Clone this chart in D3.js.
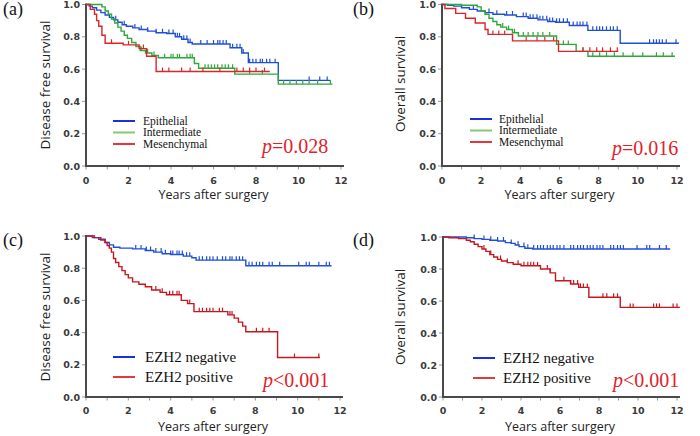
<!DOCTYPE html>
<html><head><meta charset="utf-8">
<script src="https://cdn.jsdelivr.net/npm/d3@7"></script>
<style>
html,body{margin:0;padding:0;background:#fff;}
svg{display:block;}
</style></head>
<body>
<svg id="chart" width="700" height="436"></svg>
<script>
// ---------- DATA ----------
const yearTicks = [0, 2, 4, 6, 8, 10, 12];
const survTicks = [0.0, 0.2, 0.4, 0.6, 0.8, 1.0];
const panelLabels = ["(a)", "(b)", "(c)", "(d)"];
const yTitles = ["Disease free survival", "Overall survival", "Disease free survival", "Overall survival"];
const xTitle = "Years after surgery";
const groupsEMT = ["Epithelial", "Intermediate", "Mesenchymal"];
const groupsEZH2 = ["EZH2 negative", "EZH2 positive"];
const pLabels = ["=0.028", "=0.016", "<0.001", "<0.001"];

// step curves: [years, survival]
const aEpi = [[0,1],[0.15,0.99],[0.3,0.98],[0.5,0.965],[0.7,0.95],[0.9,0.935],[1.1,0.92],[1.3,0.905],[1.5,0.89],[1.7,0.875],[1.9,0.865],[2.2,0.855],[2.5,0.845],[2.9,0.835],[3.3,0.825],[3.8,0.82],[4.2,0.8],[4.5,0.785],[4.8,0.765],[5.0,0.755],[6.78,0.732],[7.33,0.70],[7.64,0.64],[9.05,0.53],[11.5,0.53]];
const aInt = [[0,1],[0.75,0.985],[0.9,0.96],[1.05,0.94],[1.2,0.91],[1.35,0.885],[1.5,0.86],[1.65,0.835],[1.8,0.81],[1.95,0.79],[2.15,0.765],[2.35,0.74],[2.55,0.715],[2.8,0.70],[3.1,0.685],[3.4,0.67],[5.1,0.635],[5.3,0.605],[7.0,0.569],[9.05,0.507],[11.6,0.507]];
const aMes = [[0,1],[0.2,0.97],[0.4,0.94],[0.5,0.9],[0.6,0.865],[0.75,0.81],[0.9,0.76],[1.75,0.75],[2.5,0.727],[2.85,0.68],[3.3,0.585],[8.65,0.585]];
const aEpiCens = [1.4,1.8,2.3,2.6,2.9,3.3,3.6,3.9,4.1,4.3,4.4,4.6,4.75,4.9,5.4,5.7,6.0,6.2,6.3,6.45,6.6,6.9,7.1,7.25,7.4,7.7,7.85,8.0,8.2,8.3,8.5,8.65,8.9,10.5,11.0,11.35];
const aIntCens = [2.6,2.9,3.2,3.7,4.0,4.1,4.3,4.4,4.75,4.9,5.0,5.6,5.75,5.9,6.05,6.2,6.4,6.55,6.7,6.9,7.7,8.3,9.3,9.6,9.9,10.2,10.5,10.9,11.5];
const aMesCens = [1.2,2.0,2.7,3.6,3.9,4.5,4.9,5.5,6.3,7.1,7.4,7.7,8.0,8.4];

const bEpi = [[0,1],[0.3,0.995],[0.6,0.99],[1.0,0.98],[1.4,0.97],[1.8,0.96],[2.2,0.95],[2.6,0.94],[3.2,0.935],[3.8,0.925],[4.4,0.915],[4.9,0.905],[5.4,0.895],[5.8,0.89],[6.5,0.87],[7.45,0.84],[9.1,0.76],[12.1,0.76]];
const bInt = [[0,1],[1.0,0.995],[1.8,0.985],[2.0,0.96],[2.2,0.94],[2.4,0.915],[2.6,0.895],[2.8,0.875],[3.0,0.86],[3.3,0.845],[3.6,0.825],[3.9,0.805],[5.85,0.753],[6.85,0.71],[7.45,0.68],[11.9,0.68]];
const bMes = [[0,1],[0.15,0.975],[0.7,0.945],[1.2,0.915],[1.7,0.885],[2.2,0.845],[2.35,0.815],[3.6,0.775],[5.95,0.71],[9.0,0.71]];
const bEpiCens = [1.6,2.4,2.8,3.3,3.6,4.15,4.3,4.5,4.65,4.85,5.0,5.15,5.35,5.5,5.65,5.85,6.0,6.2,6.4,6.7,6.9,7.05,7.2,7.4,7.7,7.9,8.05,8.2,8.4,8.6,8.75,8.95,10.6,10.8,10.95,11.1,11.25,11.45,11.95];
const bIntCens = [3.1,3.4,3.7,4.15,4.4,4.65,4.9,5.15,5.5,6.2,6.45,7.2,7.7,8.05,8.4,8.8,9.25,9.75,10.25,10.95,11.3,11.75];
const bMesCens = [2.6,2.9,3.2,4.3,4.85,5.25,5.7,7.2,7.55,7.9,8.2,8.6,8.95];

const cNeg = [[0,1],[0.3,0.99],[0.6,0.98],[0.9,0.96],[1.1,0.945],[1.3,0.93],[1.6,0.925],[2.2,0.92],[2.8,0.91],[3.2,0.9],[3.6,0.89],[4.0,0.885],[4.6,0.875],[5.0,0.865],[5.2,0.85],[7.55,0.815],[11.6,0.815]];
const cPos = [[0,1],[0.4,0.99],[0.7,0.975],[0.9,0.96],[1.0,0.94],[1.1,0.925],[1.2,0.9],[1.3,0.86],[1.4,0.835],[1.55,0.81],[1.7,0.785],[1.85,0.76],[2.0,0.74],[2.2,0.715],[2.5,0.70],[2.8,0.685],[3.1,0.665],[3.5,0.65],[3.8,0.635],[4.5,0.60],[4.8,0.58],[5.1,0.53],[6.7,0.51],[7.0,0.49],[7.2,0.465],[7.4,0.44],[7.55,0.405],[9.05,0.245],[11.05,0.245]];
const cNegCens = [2.35,2.6,2.85,3.05,3.3,3.55,3.75,4.0,4.1,4.3,4.4,4.55,4.75,4.9,5.35,5.5,5.7,5.85,6.0,6.2,6.45,6.6,6.8,6.9,7.1,7.25,7.4,7.7,7.85,8.05,8.2,8.35,8.65,8.8,9.15,10.05,10.4,10.55,11.0,11.35,11.5];
const cPosCens = [3.3,3.6,3.95,4.1,4.3,4.4,4.9,5.35,5.5,5.7,5.85,6.0,6.3,6.45,6.8,6.9,8.05,8.35,8.65,9.85,11.0];

const dNeg = [[0,1],[1.2,0.995],[1.6,0.99],[2.0,0.985],[2.4,0.98],[2.8,0.975],[3.2,0.965],[3.5,0.96],[3.7,0.95],[3.9,0.94],[4.2,0.93],[4.6,0.925],[11.65,0.925]];
const dPos = [[0,1],[0.3,0.995],[0.8,0.99],[1.2,0.98],[1.4,0.97],[1.6,0.955],[1.8,0.94],[2.0,0.925],[2.2,0.91],[2.4,0.89],[2.6,0.875],[2.8,0.86],[3.0,0.85],[3.3,0.84],[3.6,0.83],[4.0,0.82],[5.0,0.80],[5.5,0.776],[5.77,0.727],[6.54,0.706],[6.96,0.685],[7.48,0.623],[9.09,0.56],[12.15,0.56]];
const dNegCens = [1.6,2.1,2.45,2.8,3.1,3.5,3.85,4.15,4.35,4.65,4.85,5.0,5.15,5.35,5.5,5.65,5.85,6.0,6.2,6.55,6.7,6.9,7.05,7.2,7.4,7.55,7.7,7.9,8.05,8.2,8.6,8.75,8.95,9.1,9.25,9.95,10.45,10.6,11.1,11.45];
const dPosCens = [2.1,2.45,2.95,3.3,3.85,4.15,4.35,4.5,4.65,4.85,5.35,5.5,6.2,6.55,6.7,6.9,7.05,7.2,7.4,8.2,8.4,8.75,8.95,9.6,9.75,10.8,10.95,11.1,11.8,12.0];

// ---------- LAYOUT / STYLE ----------
const BLUE = "#1f4fd8", GREEN = "#2ea83a", RED = "#d9262b", DRED = "#c8161f";
const panels = [
  {x0:86, x1:341, y0:166, y1:4.5, axEnd:344, lab:[3,15], ytx:50, yty:85, xtBase:184, xtitleY:199,
   series:[{d:aEpi,c:aEpiCens,col:BLUE},{d:aInt,c:aIntCens,col:GREEN},{d:aMes,c:aMesCens,col:RED}],
   legend:{names:groupsEMT, cols:["#1c2fe0","#86c96e","#e5383a"], lx:113, tx:143, ys:[121,132.5,144], fs:11.5},
   p:{x:262, y:153}},
  {x0:442, x1:677, y0:166, y1:4.5, axEnd:680, lab:[353,15], ytx:405, yty:84, xtBase:184, xtitleY:199,
   series:[{d:bEpi,c:bEpiCens,col:BLUE},{d:bInt,c:bIntCens,col:GREEN},{d:bMes,c:bMesCens,col:RED}],
   legend:{names:groupsEMT, cols:["#1c2fe0","#86c96e","#e5383a"], lx:470, tx:499, ys:[119,130.5,142], fs:11.5},
   p:{x:612, y:155}},
  {x0:86, x1:340, y0:397, y1:236, axEnd:343, lab:[3,246], ytx:50, yty:317, xtBase:414, xtitleY:431,
   series:[{d:cNeg,c:cNegCens,col:BLUE},{d:cPos,c:cPosCens,col:DRED}],
   legend:{names:groupsEZH2, cols:["#1c2fe0","#e5383a"], lx:113, tx:145, ys:[357,377], fs:15},
   p:{x:263, y:387}},
  {x0:443, x1:677, y0:397, y1:237, axEnd:680, lab:[353,246], ytx:405, yty:317, xtBase:414, xtitleY:431,
   series:[{d:dNeg,c:dNegCens,col:BLUE},{d:dPos,c:dPosCens,col:DRED}],
   legend:{names:groupsEZH2, cols:["#1c2fe0","#e5383a"], lx:473, tx:503, ys:[358,378], fs:15},
   p:{x:613, y:387}}
];

const svg = d3.select("#chart");
const SANS = "'DejaVu Sans', Verdana, sans-serif";
const TITLE = "'Open Sans', 'Noto Sans', sans-serif";
const SERIF = "'Liberation Serif', 'Times New Roman', serif";

function survAt(steps, t) {
  let s = steps[0][1];
  for (const p of steps) { if (p[0] <= t) s = p[1]; else break; }
  return s;
}

panels.forEach((P, i) => {
  const g = svg.append("g");
  const x = d3.scaleLinear().domain([0, 12]).range([P.x0, P.x1]);
  const y = d3.scaleLinear().domain([0, 1]).range([P.y0, P.y1]);

  // minor x ticks
  const minor = d3.range(0, 13, 1);
  g.selectAll(".xt").data(minor).join("line")
    .attr("x1", d => x(d)).attr("x2", d => x(d))
    .attr("y1", P.y0).attr("y2", P.y0 + 3.5)
    .attr("stroke", "#999").attr("stroke-width", 1);
  // y ticks
  g.selectAll(".yt").data(survTicks).join("line")
    .attr("x1", P.x0 - 4).attr("x2", P.x0)
    .attr("y1", d => y(d)).attr("y2", d => y(d))
    .attr("stroke", "#999").attr("stroke-width", 1);

  // axis lines
  g.append("line").attr("x1", P.x0).attr("x2", P.x0).attr("y1", P.y0 + 1).attr("y2", P.y1 - 1)
    .attr("stroke", "#4a4a4a").attr("stroke-width", 2);
  g.append("line").attr("x1", P.x0 - 1).attr("x2", P.axEnd).attr("y1", P.y0).attr("y2", P.y0)
    .attr("stroke", "#4a4a4a").attr("stroke-width", 2);

  // tick labels
  g.selectAll(".xl").data(yearTicks).join("text")
    .attr("x", d => x(d)).attr("y", P.xtBase)
    .attr("text-anchor", "middle").attr("font-family", SANS).attr("font-weight", "bold")
    .attr("font-size", 9.5).attr("fill", "#3a3a3a").text(d => d);
  g.selectAll(".yl").data(survTicks).join("text")
    .attr("x", P.x0 - 6).attr("y", d => y(d) + 3.5)
    .attr("text-anchor", "end").attr("font-family", SANS).attr("font-weight", "bold")
    .attr("font-size", 9.5).attr("fill", "#3a3a3a").text(d => d.toFixed(1));

  // axis titles
  g.append("text").attr("x", (P.x0 + P.x1) / 2 + 0).attr("y", P.xtitleY)
    .attr("text-anchor", "middle").attr("font-family", TITLE).attr("font-size", 12.5)
    .attr("fill", "#222").text(xTitle);
  g.append("text").attr("transform", `translate(${P.ytx},${P.yty}) rotate(-90)`)
    .attr("text-anchor", "middle").attr("font-family", TITLE).attr("font-size", 13.5)
    .attr("fill", "#222").text(yTitles[i]);

  // panel label
  g.append("text").attr("x", P.lab[0]).attr("y", P.lab[1])
    .attr("font-family", SERIF).attr("font-size", 18).attr("fill", "#111").text(panelLabels[i]);

  // curves
  const line = d3.line().x(d => x(d[0])).y(d => y(d[1])).curve(d3.curveStepAfter);
  P.series.forEach(S => {
    g.append("path").attr("d", line(S.d)).attr("fill", "none")
      .attr("stroke", S.col).attr("stroke-width", 1.4);
    g.selectAll(null).data(S.c).join("line")
      .attr("x1", d => x(d)).attr("x2", d => x(d))
      .attr("y1", d => y(survAt(S.d, d))).attr("y2", d => y(survAt(S.d, d)) - 4)
      .attr("stroke", S.col).attr("stroke-width", 1.2);
  });

  // legend
  const L = P.legend;
  L.names.forEach((nm, k) => {
    g.append("line").attr("x1", L.lx).attr("x2", L.lx + 22).attr("y1", L.ys[k]).attr("y2", L.ys[k])
      .attr("stroke", L.cols[k]).attr("stroke-width", 2);
    g.append("text").attr("x", L.tx).attr("y", L.ys[k] + L.fs * 0.33)
      .attr("font-family", SERIF).attr("font-size", L.fs).attr("fill", "#111").text(nm);
  });

  // p value
  const pt = g.append("text").attr("x", P.p.x).attr("y", P.p.y)
    .attr("font-family", SERIF).attr("font-size", 20).attr("fill", "#e3202a");
  pt.append("tspan").attr("font-style", "italic").text("p");
  pt.append("tspan").text(pLabels[i]);
});
</script>
</body></html>
